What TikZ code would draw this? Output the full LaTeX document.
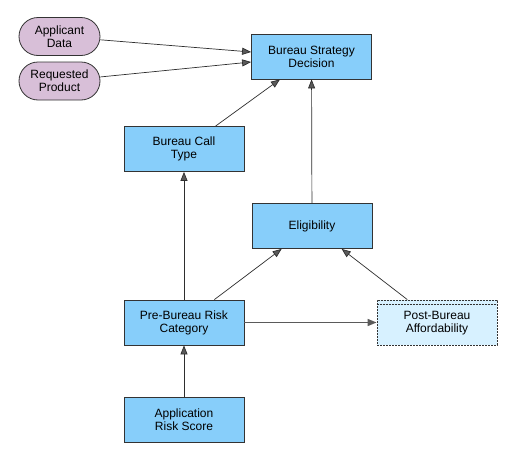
\documentclass[tikz,border=0pt]{standalone}
\usepackage{fontspec}
\setmainfont{Liberation Sans}
\usepackage{xcolor}
\usepackage{tikz}
\usetikzlibrary{calc,arrows.meta}
\definecolor{bg}{HTML}{FFFFFF}
\definecolor{boxfill}{HTML}{87CEFA}
\definecolor{inputfill}{HTML}{D8BFD8}
\definecolor{paler}{HTML}{D7F1FF}
\definecolor{edge}{HTML}{333333}
\definecolor{wire}{HTML}{2E2E2E}
\definecolor{tipgray}{HTML}{5A5A5A}
\tikzset{
  box/.style={draw=edge, fill=boxfill, line width=0.8pt, minimum width=120pt,
    minimum height=45pt, align=center, font=\fontsize{12}{13}\selectfont},
  inbox/.style={box, fill=inputfill, rounded corners=19pt, minimum width=81pt,
    minimum height=38pt},
  latebox/.style={box, fill=paler, dashed, dash pattern=on 2pt off 1pt},
  link/.style={draw=wire, line width=0.7pt,
    -{Triangle[length=9pt,width=7pt,fill=tipgray]}},
  thick link/.style={link, draw=tipgray, line width=1.4pt},
}
\begin{document}
\begin{tikzpicture}[x=1pt,y=-1pt]
  \useasboundingbox[fill=bg] (0,0) rectangle (531,466);

  \node[box]     (bsd)  at (311.5,56.5) {Bureau Strategy\\Decision};
  \node[inbox]   (ad)   at (59.5,36.5)  {Applicant\\Data};
  \node[inbox]   (rp)   at (59.5,81)    {Requested\\Product};
  \node[box]     (bct)  at (184,149)    {Bureau Call\\Type};
  \node[box]     (elig) at (312,226)    {Eligibility};
  \node[box]     (pbrc) at (184,322.5)  {Pre-Bureau Risk\\Category};
  \node[latebox] (pba)  at (437,322.5)  {\rule{0pt}{10pt}Post-Bureau\\Affordability};
  \node[box]     (ars)  at (184,419.5)  {Application\\Risk Score};

  % header strip of the dashed box
  \draw[draw=edge, line width=0.8pt, dashed, dash pattern=on 2pt off 1pt]
    ($(pba.north west)+(0,5)$) -- ($(pba.north east)+(0,5)$);

  \draw[link] (ad) -- ([yshift=4.5pt]bsd.west);
  \draw[link] (rp) -- ([yshift=-5.5pt]bsd.west);
  \draw[link] (bct) -- (bsd);
  \draw[link] (elig) -- (bsd);
  \draw[link] (pbrc) -- (bct);
  \draw[link] (pbrc) -- (elig);
  \draw[link] (pba) -- (elig);
  \draw[thick link] (pbrc) -- (pba);
  \draw[link] (ars) -- (pbrc);
\end{tikzpicture}
\end{document}
